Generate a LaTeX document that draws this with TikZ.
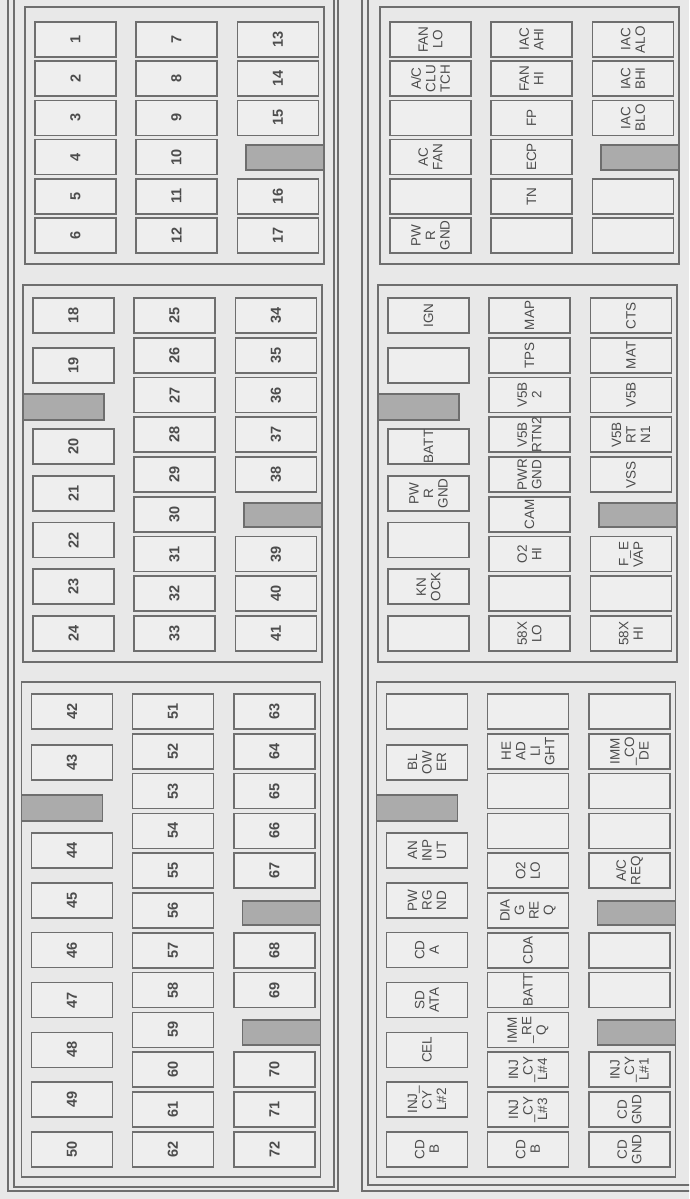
\documentclass[tikz,border=0pt]{standalone}
\usepackage{fontspec}
\setmainfont{Liberation Sans}
\definecolor{bg}{HTML}{E8E8E8}
\definecolor{ln}{HTML}{6E6E6E}
\definecolor{bx}{HTML}{EEEEEE}
\definecolor{tx}{HTML}{4C4C4C}
\definecolor{gb}{HTML}{ABABAB}
\begin{document}
\begin{tikzpicture}[x=1pt,y=-1pt,
  pin/.style={draw=ln, line width=1.6pt, fill=bx, rotate=90, minimum width=35pt, minimum height=81pt, inner sep=0pt, align=center, text=tx, font=\fontsize{13.5}{14.5}\selectfont},
  num/.style={pin, font=\bfseries\fontsize{14.5}{14.5}\selectfont},
  blk/.style={draw=ln, line width=1.6pt},
  bar/.style={draw=ln, line width=1.4pt, fill=gb},
  frm/.style={draw=ln, line width=1.5pt}]
\useasboundingbox (0,0) rectangle (689,1199);
\fill[bg] (0,0) rectangle (689,1199);
\clip (0,0) rectangle (689,1199);
% outer frames
\draw[frm] (8,-5) |- (338,1191) -- (338,-5);
\draw[frm] (14,-5) |- (334,1187) -- (334,-5);
\draw[frm] (362,-5) |- (700,1191);
\draw[frm] (368,-5) |- (700,1185);
% ================= LEFT PANEL =================
\begin{scope}[xshift=2pt]
\draw[blk] (23,7) rectangle (322,264);
\foreach \t [count=\i from 0] in {1,...,6} \node[num] (n\t) at (73.5,{39.5+39.2*\i}) {\t};
\foreach \t [count=\i from 0] in {7,...,12} \node[num] (n\t) at (174.5,{39.5+39.2*\i}) {\t};
\foreach \i/\t in {0/13,1/14,2/15,4/16,5/17} \node[num] (n\t) at (276,{39.5+39.2*\i}) {\t};
\draw[bar] (244,145) rectangle (322,170);
\end{scope}
\begin{scope}
\draw[blk] (23,285) rectangle (322,662);
\foreach \y/\t in {315.5/18,365.5/19,446.5/20,493.25/21,540/22,586.75/23,633.5/24} \node[num] (n\t) at (73.5,\y) {\t};
\draw[bar] (23,394) rectangle (104,420);
\foreach \t [count=\i from 0] in {25,...,33} \node[num] (n\t) at (174.5,{315.5+39.75*\i}) {\t};
\foreach \i/\t in {0/34,1/35,2/36,3/37,4/38,6/39,7/40,8/41} \node[num] (n\t) at (276,{315.5+39.75*\i}) {\t};
\draw[bar] (244,503) rectangle (322,527);
\end{scope}
\begin{scope}[xshift=-1.5pt]
\draw[blk] (23,682) rectangle (322,1177);
\foreach \y/\t in {711.5/42,762.5/43} \node[num] (n\t) at (73.5,\y) {\t};
\foreach \t [count=\i from 0] in {44,...,50} \node[num] (n\t) at (73.5,{850.5+49.83*\i}) {\t};
\draw[bar] (23,795) rectangle (104,821);
\foreach \t [count=\i from 0] in {51,...,62} \node[num] (n\t) at (174.5,{711.5+39.8*\i}) {\t};
\foreach \i/\t in {0/63,1/64,2/65,3/66,4/67,6/68,7/69,9/70,10/71,11/72} \node[num] (n\t) at (276,{711.5+39.8*\i}) {\t};
\draw[bar] (244,901) rectangle (322,925);
\draw[bar] (244,1020) rectangle (322,1045);
\end{scope}
% ================= RIGHT PANEL =================
\begin{scope}[xshift=357pt]
\draw[blk] (23,7) rectangle (322,264);
\foreach \t [count=\i from 0] in {{FAN\\LO},{A/C\\CLU\\TCH},{},{AC\\FAN},{},{PW\\R\\GND}} \node[pin] (ta\i) at (73.5,{39.5+39.2*\i}) {\t};
\foreach \t [count=\i from 0] in {{IAC\\AHI},{FAN\\HI},{FP},{ECP},{TN},{}} \node[pin] (tb\i) at (174.5,{39.5+39.2*\i}) {\t};
\foreach \i/\t in {0/{IAC\\ALO},1/{IAC\\BHI},2/{IAC\\BLO},4/{},5/{}} \node[pin] (tc\i) at (276,{39.5+39.2*\i}) {\t};
\draw[bar] (244,145) rectangle (322,170);
\end{scope}
\begin{scope}[xshift=355pt]
\draw[blk] (23,285) rectangle (322,662);
\foreach \y/\t [count=\i] in {315.5/{IGN},365.5/{},446.5/{BATT},493.25/{PW\\R\\GND},540/{},586.75/{KN\\OCK},633.5/{}} \node[pin] (ma\i) at (73.5,\y) {\t};
\draw[bar] (23,394) rectangle (104,420);
\foreach \t [count=\i from 0] in {{MAP},{TPS},{V5B\\2},{V5B\\RTN2},{PWR\\GND},{CAM},{O2\\HI},{},{58X\\LO}} \node[pin] (mb\i) at (174.5,{315.5+39.75*\i}) {\t};
\foreach \i/\t in {0/{CTS},1/{MAT},2/{V5B},3/{V5B\\RT\\N1},4/{VSS},6/{F\_E\\VAP},7/{},8/{58X\\HI}} \node[pin] (mc\i) at (276,{315.5+39.75*\i}) {\t};
\draw[bar] (244,503) rectangle (322,527);
\end{scope}
\begin{scope}[xshift=353.5pt]
\draw[blk] (23,682) rectangle (322,1177);
\foreach \y/\t [count=\i] in {711.5/{},762.5/{BL\\OW\\ER}} \node[pin] (ba\i) at (73.5,\y) {\t};
\foreach \t [count=\i from 0] in {{AN\\INP\\UT},{PW\\RG\\ND},{CD\\A},{SD\\ATA},{CEL},{INJ\_\\CY\\L\#2},{CD\\B}} \node[pin] (bx\i) at (73.5,{850.5+49.83*\i}) {\t};
\draw[bar] (23,795) rectangle (104,821);
\foreach \t [count=\i from 0] in {{},{HE\\AD\\LI\\GHT},{},{},{O2\\LO},{DIA\\G\\RE\\Q},{CDA},{BATT},{IMM\\\_RE\\Q},{INJ\\\_CY\\L\#4},{INJ\\\_CY\\L\#3},{CD\\B}} \node[pin] (bb\i) at (174.5,{711.5+39.8*\i}) {\t};
\foreach \i/\t in {0/{},1/{IMM\\\_CO\\DE},2/{},3/{},4/{A/C\\REQ},6/{},7/{},9/{INJ\\\_CY\\L\#1},10/{CD\\GND},11/{CD\\GND}} \node[pin] (bc\i) at (276,{711.5+39.8*\i}) {\t};
\draw[bar] (244,901) rectangle (322,925);
\draw[bar] (244,1020) rectangle (322,1045);
\end{scope}
\end{tikzpicture}
\end{document}
